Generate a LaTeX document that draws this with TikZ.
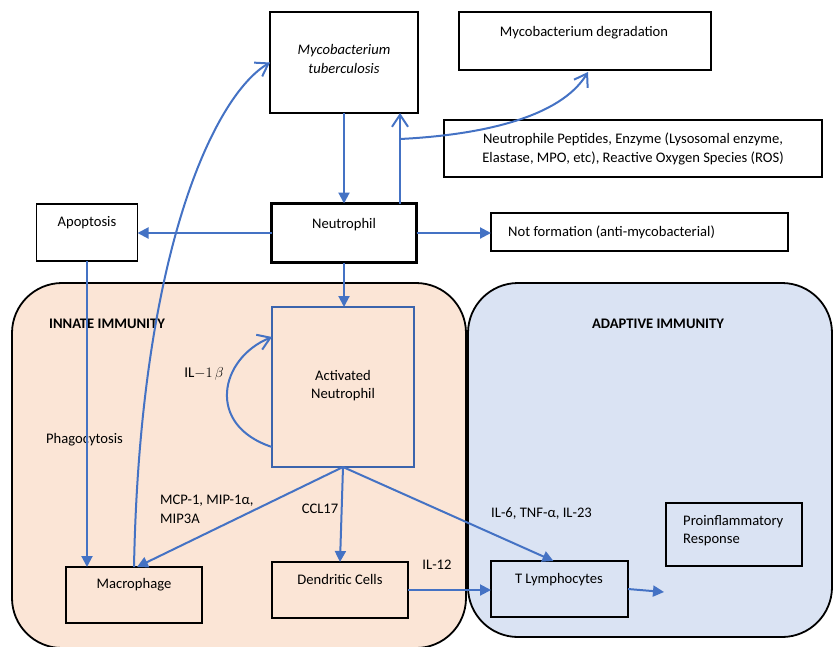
\documentclass[tikz,border=0pt]{standalone}
\usepackage{fontspec}
\setmainfont{Carlito}
\usetikzlibrary{arrows.meta}
\definecolor{arrowblue}{HTML}{4472C4}
\definecolor{actblue}{HTML}{3B64AD}
\definecolor{innatefill}{HTML}{FBE5D6}
\definecolor{adaptfill}{HTML}{DAE3F3}
\begin{document}
\begin{tikzpicture}[x=1pt,y=-1pt,
  box/.style={draw=black, line width=1.3pt, inner sep=0pt, outer sep=0pt},
  thickbox/.style={box, line width=2.8pt},
  actbox/.style={box, draw=actblue, line width=2.2pt},
  region/.style={draw=black, line width=1.8pt, rounded corners=50pt},
  conn/.style={draw=arrowblue, line width=2pt, -{Triangle[length=11pt,width=11pt]}},
  openconn/.style={draw=arrowblue, line width=2pt, -{Straight Barb[length=12pt,width=16pt,line width=2pt]}},
  txt/.style={font=\fontsize{14.6}{18.5}\selectfont, inner sep=0pt, align=center},
  boldtxt/.style={txt, font=\fontsize{14.6}{18.5}\selectfont\bfseries}
]
\useasboundingbox (0,0) rectangle (834,646);
\clip (0,0) rectangle (834,646);

% regions
\draw[region, fill=innatefill] (12,283) rectangle (466,648);
\draw[region, fill=adaptfill] (468,283) rectangle (832,637);
\node[boldtxt, anchor=base] (innatelbl) at (107,328.5) {INNATE IMMUNITY};
\node[boldtxt, anchor=base] (adaptlbl) at (658,328) {ADAPTIVE IMMUNITY};

% boxes
\node[box, minimum width=148pt, minimum height=101pt] (tb) at (344,62.5) {};
\node[thickbox, minimum width=252pt, minimum height=58pt] (degr) at (585,41) {};
\node[thickbox, minimum width=378pt, minimum height=57pt] (pept) at (633,148.5) {};
\node[thickbox, minimum width=145pt, minimum height=59pt] (neut) at (344,233) {};
\node[box, minimum width=101pt, minimum height=57pt] (apop) at (87,232.5) {};
\node[box, minimum width=297pt, minimum height=38pt] (notf) at (639.5,232) {};
\node[actbox, minimum width=142pt, minimum height=160pt] (act) at (343,387) {};
\node[box, minimum width=136pt, minimum height=56pt] (macro) at (134,595) {};
\node[box, minimum width=136pt, minimum height=56pt] (dend) at (340,590) {};
\node[box, minimum width=137pt, minimum height=56pt] (tly) at (559.5,589) {};
\node[box, minimum width=136pt, minimum height=63pt] (proinf) at (734,534.5) {};

% box texts
\node[txt, font=\fontsize{14.6}{19}\selectfont\itshape] (tbtxt) at (344,58.5) {Mycobacterium\\tuberculosis};
\node[txt, anchor=base] (degrtxt) at (584,36) {Mycobacterium degradation};
\node[txt, font=\fontsize{14.6}{19}\selectfont] (pepttxt) at (633,148.5) {Neutrophile Peptides, Enzyme (Lysosomal enzyme,\\Elastase, MPO, etc), Reactive Oxygen Species (ROS)};
\node[txt, anchor=base] (neuttxt) at (344,228) {Neutrophil};
\node[txt, anchor=base] (apoptxt) at (87,226.5) {Apoptosis};
\node[txt, anchor=base west] (notftxt) at (508,236) {Not formation (anti-mycobacterial)};
\node[txt, font=\fontsize{14.6}{17.5}\selectfont] (acttxt) at (343,385.5) {Activated\\Neutrophil};
\node[txt, anchor=base] (macrotxt) at (134,588.5) {Macrophage};
\node[txt, anchor=base] (dendtxt) at (340,584) {Dendritic Cells};
\node[txt, anchor=base] (tlytxt) at (559,583) {T Lymphocytes};
\node[txt, align=left, anchor=west, font=\fontsize{14.6}{18}\selectfont] (proinftxt) at (683,531) {Proinflammatory\\Response};

% connector labels
\node[txt, anchor=base west] (phago) at (46,443) {Phagocytosis};
\node[txt, align=left, anchor=west, font=\fontsize{14.6}{19}\selectfont] (mcp) at (160,509.5) {MCP-1, MIP-1α,\\MIP3A};
\node[txt, anchor=base] (ccl) at (320,513) {CCL17};
\node[txt, anchor=base west] (il6) at (491,517) {IL-6, TNF-α, IL-23};
\node[txt, anchor=base] (il12) at (437,569) {IL-12};
\node[inner sep=0pt, anchor=base, font=\fontsize{15}{18}\selectfont] (il1) at (204,377) {$\mathrm{IL}{-}1\,\beta$};

% connectors
\draw[conn] (tb.south) -- (tb.south |- neut.north);
\draw[openconn] ([xshift=56pt]neut.north) -- ([xshift=56pt]neut.north |- tb.south);
\coordinate (branch) at (400,139);
\draw[openconn] (branch) .. controls (480,135) and (560,118) .. ([xshift=3pt,yshift=-2pt]degr.south);
\draw[conn] (neut.west) -- (neut.west -| apop.east);
\draw[conn] (neut.east) -- (neut.east -| notf.west);
\draw[conn] (neut.south) -- (neut.south |- act.north);
\draw[openconn] ([yshift=-60pt]act.west) .. controls (205,425) and (220,358) .. ([yshift=50pt]act.west);
\draw[conn] (apop.south) -- (apop.south |- macro.north);
\draw[openconn] (macro.north) .. controls (140,250) and (215,95) .. (tb.west);
\draw[conn] (act.south) -- ([xshift=3pt]macro.north);
\draw[conn] (act.south) -- (dend.north);
\draw[conn] (act.south) -- ([xshift=-6pt]tly.north);
\draw[conn] (dend.east) -- (dend.east -| tly.west);
\coordinate (tlyend) at (664,592);
\draw[conn] (tly.east) -- (tlyend);
\end{tikzpicture}
\end{document}
